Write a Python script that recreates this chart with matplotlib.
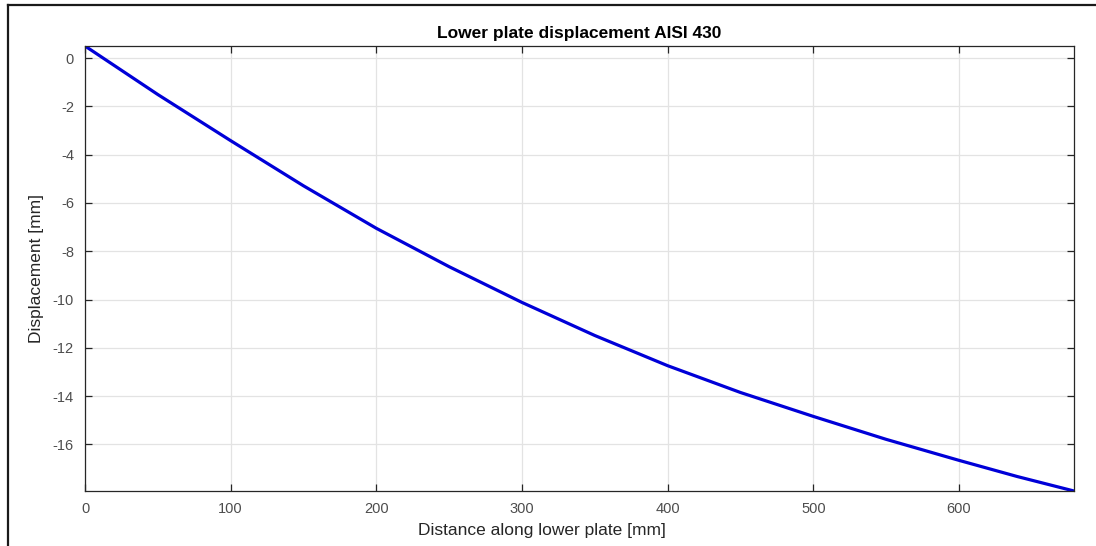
import matplotlib
matplotlib.use('Agg')
import matplotlib.pyplot as plt
from matplotlib.lines import Line2D

plt.rcParams['font.family'] = ['Liberation Sans', 'DejaVu Sans']
plt.rcParams['axes.unicode_minus'] = False

#### Data ####
distance = [0, 50, 100, 150, 200, 250, 300, 350, 400, 450, 500, 550, 600, 640, 679]
displacement = [0.5, -1.51, -3.42, -5.29, -7.05, -8.64, -10.12, -11.49, -12.74,
                -13.85, -14.84, -15.79, -16.66, -17.33, -17.93]
xticks = [0, 100, 200, 300, 400, 500, 600]
yticks = [0, -2, -4, -6, -8, -10, -12, -14, -16]

#### Figure ####
fig = plt.figure(figsize=(10.96, 5.46), dpi=100)
ax = fig.add_axes([85/1096, 55/546, 989/1096, 445/546])

ax.plot(distance, displacement, color='#0000d8', lw=2.3, solid_capstyle='round')

ax.set_xlim(distance[0], distance[-1])
ax.set_ylim(displacement[-1], displacement[0])
ax.set_xticks(xticks)
ax.set_yticks(yticks)
ax.grid(True, color='#e3e3e3', lw=0.9)
ax.set_axisbelow(True)
ax.tick_params(direction='in', length=5, width=0.9, top=True, right=True,
               colors='#262626', labelcolor='#4d4d4d', labelsize=10.5, pad=8)
for s in ax.spines.values():
    s.set_color('#262626')
    s.set_linewidth(0.9)

ax.set_title('Lower plate displacement AISI 430', fontsize=12.5, fontweight='bold', pad=6)
ax.set_xlabel('Distance along lower plate [mm]', fontsize=12.5, color='#262626')
ax.xaxis.set_label_coords(0.462, -0.073)
ax.set_ylabel('Displacement [mm]', fontsize=12.5, color='#262626', labelpad=6)

# outer frame of the picture (top and left edges)
fig.add_artist(Line2D([8/1096, 8/1096], [0, 1 - 5/546], transform=fig.transFigure, color='#1a1a1a', lw=1.6))
fig.add_artist(Line2D([8/1096, 1], [1 - 5/546, 1 - 5/546], transform=fig.transFigure, color='#1a1a1a', lw=1.6))

fig.savefig('out.png', dpi=100)
